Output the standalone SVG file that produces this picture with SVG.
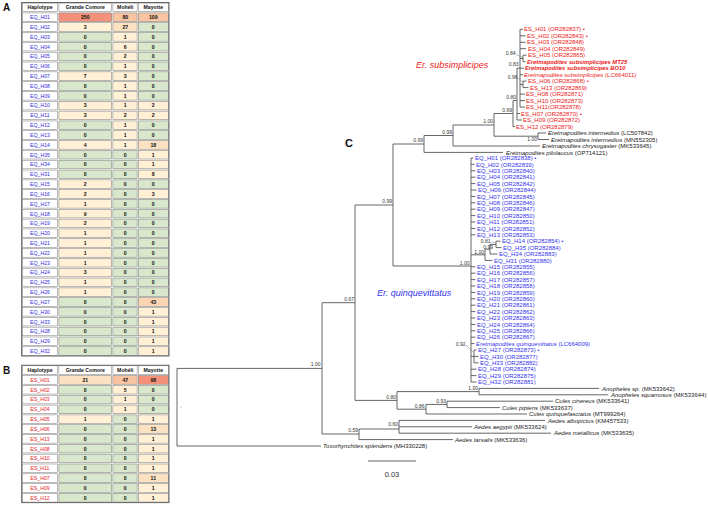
<svg xmlns="http://www.w3.org/2000/svg" width="708" height="505" viewBox="0 0 708 505">
<style>
text{font-family:"Liberation Sans",Arial,sans-serif}
.w{fill:#fff;stroke:#777;stroke-width:.5}
.g{fill:#d9e8cc;stroke:#777;stroke-width:.5}
.c1{fill:#fff0d6;stroke:#777;stroke-width:.5}
.c2{fill:#fde1c3;stroke:#777;stroke-width:.5}
.c3{fill:#fbd4b4;stroke:#777;stroke-width:.5}
.c4{fill:#f8c4a2;stroke:#777;stroke-width:.5}
.c5{fill:#f3917a;stroke:#777;stroke-width:.5}
.hd{font-size:5.2px;font-weight:bold;text-anchor:middle;fill:#111}
.n{font-size:5.2px;font-weight:bold;text-anchor:middle;fill:#111}
.hq{font-size:5.2px;text-anchor:middle;fill:#2f2fd8}
.hs{font-size:5.2px;text-anchor:middle;fill:#e82424}
.frame{fill:none;stroke:#444;stroke-width:.8}
.panel{font-weight:bold;fill:#111}
.br{fill:none;stroke:#555;stroke-width:.9}
.ld{fill:none;stroke:#777;stroke-width:.5}
.sup{font-size:5px;text-anchor:end;fill:#333}
.tq{font-size:6px;fill:#3333ee}
.ts{font-size:6px;fill:#ee2020}
.tk{font-size:6px;fill:#222}
.it{font-style:italic}
.bi{font-style:italic;font-weight:bold;font-size:5.8px}
.clade{font-size:9px;font-style:italic}
</style>

<g id="panel-letters">
<text class="panel" x="3" y="10.5" font-size="10">A</text>
<text class="panel" x="3" y="373.5" font-size="10">B</text>
<text class="panel" x="345" y="147" font-size="11">C</text>
</g>

<g id="tableA">
<g transform="translate(0,2.5)"><rect class="w" x="22.3" y=".6" width="35.4" height="8.6"/><rect class="w" x="58.9" y=".6" width="52.8" height="8.6"/><rect class="w" x="112.9" y=".6" width="24.2" height="8.6"/><rect class="w" x="138.3" y=".6" width="30.1" height="8.6"/><text class="hd" x="40" y="6.8">Haplotype</text><text class="hd" x="85.3" y="6.8">Grande Comore</text><text class="hd" x="125.3" y="6.8">Mohéli</text><text class="hd" x="153.3" y="6.8">Mayotte</text></g>
<g transform="translate(0,12.32)"><rect class="w" x="22.3" y=".6" width="35.4" height="8.6"/><rect class="c5" x="58.9" y=".6" width="52.8" height="8.6"/><rect class="c4" x="112.9" y=".6" width="24.2" height="8.6"/><rect class="c4" x="138.3" y=".6" width="30.1" height="8.6"/><text class="hq" x="40" y="6.8">EQ_H01</text><text class="n" x="85.3" y="6.8">250</text><text class="n" x="125.3" y="6.8">80</text><text class="n" x="153.3" y="6.8">109</text></g>
<g transform="translate(0,22.14)"><rect class="w" x="22.3" y=".6" width="35.4" height="8.6"/><rect class="c1" x="58.9" y=".6" width="52.8" height="8.6"/><rect class="c2" x="112.9" y=".6" width="24.2" height="8.6"/><rect class="g" x="138.3" y=".6" width="30.1" height="8.6"/><text class="hq" x="40" y="6.8">EQ_H02</text><text class="n" x="85.3" y="6.8">3</text><text class="n" x="125.3" y="6.8">27</text><text class="n" x="153.3" y="6.8">0</text></g>
<g transform="translate(0,31.96)"><rect class="w" x="22.3" y=".6" width="35.4" height="8.6"/><rect class="g" x="58.9" y=".6" width="52.8" height="8.6"/><rect class="c1" x="112.9" y=".6" width="24.2" height="8.6"/><rect class="g" x="138.3" y=".6" width="30.1" height="8.6"/><text class="hq" x="40" y="6.8">EQ_H03</text><text class="n" x="85.3" y="6.8">0</text><text class="n" x="125.3" y="6.8">1</text><text class="n" x="153.3" y="6.8">0</text></g>
<g transform="translate(0,41.78)"><rect class="w" x="22.3" y=".6" width="35.4" height="8.6"/><rect class="g" x="58.9" y=".6" width="52.8" height="8.6"/><rect class="c1" x="112.9" y=".6" width="24.2" height="8.6"/><rect class="g" x="138.3" y=".6" width="30.1" height="8.6"/><text class="hq" x="40" y="6.8">EQ_H04</text><text class="n" x="85.3" y="6.8">0</text><text class="n" x="125.3" y="6.8">6</text><text class="n" x="153.3" y="6.8">0</text></g>
<g transform="translate(0,51.6)"><rect class="w" x="22.3" y=".6" width="35.4" height="8.6"/><rect class="g" x="58.9" y=".6" width="52.8" height="8.6"/><rect class="c1" x="112.9" y=".6" width="24.2" height="8.6"/><rect class="g" x="138.3" y=".6" width="30.1" height="8.6"/><text class="hq" x="40" y="6.8">EQ_H05</text><text class="n" x="85.3" y="6.8">0</text><text class="n" x="125.3" y="6.8">2</text><text class="n" x="153.3" y="6.8">0</text></g>
<g transform="translate(0,61.42)"><rect class="w" x="22.3" y=".6" width="35.4" height="8.6"/><rect class="g" x="58.9" y=".6" width="52.8" height="8.6"/><rect class="c1" x="112.9" y=".6" width="24.2" height="8.6"/><rect class="g" x="138.3" y=".6" width="30.1" height="8.6"/><text class="hq" x="40" y="6.8">EQ_H06</text><text class="n" x="85.3" y="6.8">0</text><text class="n" x="125.3" y="6.8">1</text><text class="n" x="153.3" y="6.8">0</text></g>
<g transform="translate(0,71.24)"><rect class="w" x="22.3" y=".6" width="35.4" height="8.6"/><rect class="c1" x="58.9" y=".6" width="52.8" height="8.6"/><rect class="c1" x="112.9" y=".6" width="24.2" height="8.6"/><rect class="g" x="138.3" y=".6" width="30.1" height="8.6"/><text class="hq" x="40" y="6.8">EQ_H07</text><text class="n" x="85.3" y="6.8">7</text><text class="n" x="125.3" y="6.8">3</text><text class="n" x="153.3" y="6.8">0</text></g>
<g transform="translate(0,81.06)"><rect class="w" x="22.3" y=".6" width="35.4" height="8.6"/><rect class="g" x="58.9" y=".6" width="52.8" height="8.6"/><rect class="c1" x="112.9" y=".6" width="24.2" height="8.6"/><rect class="g" x="138.3" y=".6" width="30.1" height="8.6"/><text class="hq" x="40" y="6.8">EQ_H08</text><text class="n" x="85.3" y="6.8">0</text><text class="n" x="125.3" y="6.8">1</text><text class="n" x="153.3" y="6.8">0</text></g>
<g transform="translate(0,90.88)"><rect class="w" x="22.3" y=".6" width="35.4" height="8.6"/><rect class="g" x="58.9" y=".6" width="52.8" height="8.6"/><rect class="c1" x="112.9" y=".6" width="24.2" height="8.6"/><rect class="g" x="138.3" y=".6" width="30.1" height="8.6"/><text class="hq" x="40" y="6.8">EQ_H09</text><text class="n" x="85.3" y="6.8">0</text><text class="n" x="125.3" y="6.8">1</text><text class="n" x="153.3" y="6.8">0</text></g>
<g transform="translate(0,100.7)"><rect class="w" x="22.3" y=".6" width="35.4" height="8.6"/><rect class="c1" x="58.9" y=".6" width="52.8" height="8.6"/><rect class="c1" x="112.9" y=".6" width="24.2" height="8.6"/><rect class="c1" x="138.3" y=".6" width="30.1" height="8.6"/><text class="hq" x="40" y="6.8">EQ_H10</text><text class="n" x="85.3" y="6.8">3</text><text class="n" x="125.3" y="6.8">1</text><text class="n" x="153.3" y="6.8">2</text></g>
<g transform="translate(0,110.52)"><rect class="w" x="22.3" y=".6" width="35.4" height="8.6"/><rect class="c1" x="58.9" y=".6" width="52.8" height="8.6"/><rect class="c1" x="112.9" y=".6" width="24.2" height="8.6"/><rect class="c1" x="138.3" y=".6" width="30.1" height="8.6"/><text class="hq" x="40" y="6.8">EQ_H11</text><text class="n" x="85.3" y="6.8">3</text><text class="n" x="125.3" y="6.8">2</text><text class="n" x="153.3" y="6.8">2</text></g>
<g transform="translate(0,120.34)"><rect class="w" x="22.3" y=".6" width="35.4" height="8.6"/><rect class="g" x="58.9" y=".6" width="52.8" height="8.6"/><rect class="c1" x="112.9" y=".6" width="24.2" height="8.6"/><rect class="g" x="138.3" y=".6" width="30.1" height="8.6"/><text class="hq" x="40" y="6.8">EQ_H12</text><text class="n" x="85.3" y="6.8">0</text><text class="n" x="125.3" y="6.8">1</text><text class="n" x="153.3" y="6.8">0</text></g>
<g transform="translate(0,130.16)"><rect class="w" x="22.3" y=".6" width="35.4" height="8.6"/><rect class="g" x="58.9" y=".6" width="52.8" height="8.6"/><rect class="c1" x="112.9" y=".6" width="24.2" height="8.6"/><rect class="g" x="138.3" y=".6" width="30.1" height="8.6"/><text class="hq" x="40" y="6.8">EQ_H13</text><text class="n" x="85.3" y="6.8">0</text><text class="n" x="125.3" y="6.8">1</text><text class="n" x="153.3" y="6.8">0</text></g>
<g transform="translate(0,139.98)"><rect class="w" x="22.3" y=".6" width="35.4" height="8.6"/><rect class="c1" x="58.9" y=".6" width="52.8" height="8.6"/><rect class="c1" x="112.9" y=".6" width="24.2" height="8.6"/><rect class="c2" x="138.3" y=".6" width="30.1" height="8.6"/><text class="hq" x="40" y="6.8">EQ_H14</text><text class="n" x="85.3" y="6.8">4</text><text class="n" x="125.3" y="6.8">1</text><text class="n" x="153.3" y="6.8">18</text></g>
<g transform="translate(0,149.8)"><rect class="w" x="22.3" y=".6" width="35.4" height="8.6"/><rect class="g" x="58.9" y=".6" width="52.8" height="8.6"/><rect class="g" x="112.9" y=".6" width="24.2" height="8.6"/><rect class="c1" x="138.3" y=".6" width="30.1" height="8.6"/><text class="hq" x="40" y="6.8">EQ_H35</text><text class="n" x="85.3" y="6.8">0</text><text class="n" x="125.3" y="6.8">0</text><text class="n" x="153.3" y="6.8">1</text></g>
<g transform="translate(0,159.62)"><rect class="w" x="22.3" y=".6" width="35.4" height="8.6"/><rect class="g" x="58.9" y=".6" width="52.8" height="8.6"/><rect class="g" x="112.9" y=".6" width="24.2" height="8.6"/><rect class="c1" x="138.3" y=".6" width="30.1" height="8.6"/><text class="hq" x="40" y="6.8">EQ_H34</text><text class="n" x="85.3" y="6.8">0</text><text class="n" x="125.3" y="6.8">0</text><text class="n" x="153.3" y="6.8">1</text></g>
<g transform="translate(0,169.44)"><rect class="w" x="22.3" y=".6" width="35.4" height="8.6"/><rect class="g" x="58.9" y=".6" width="52.8" height="8.6"/><rect class="g" x="112.9" y=".6" width="24.2" height="8.6"/><rect class="c1" x="138.3" y=".6" width="30.1" height="8.6"/><text class="hq" x="40" y="6.8">EQ_H31</text><text class="n" x="85.3" y="6.8">0</text><text class="n" x="125.3" y="6.8">0</text><text class="n" x="153.3" y="6.8">8</text></g>
<g transform="translate(0,179.26)"><rect class="w" x="22.3" y=".6" width="35.4" height="8.6"/><rect class="c1" x="58.9" y=".6" width="52.8" height="8.6"/><rect class="g" x="112.9" y=".6" width="24.2" height="8.6"/><rect class="g" x="138.3" y=".6" width="30.1" height="8.6"/><text class="hq" x="40" y="6.8">EQ_H15</text><text class="n" x="85.3" y="6.8">2</text><text class="n" x="125.3" y="6.8">0</text><text class="n" x="153.3" y="6.8">0</text></g>
<g transform="translate(0,189.08)"><rect class="w" x="22.3" y=".6" width="35.4" height="8.6"/><rect class="c1" x="58.9" y=".6" width="52.8" height="8.6"/><rect class="g" x="112.9" y=".6" width="24.2" height="8.6"/><rect class="c1" x="138.3" y=".6" width="30.1" height="8.6"/><text class="hq" x="40" y="6.8">EQ_H16</text><text class="n" x="85.3" y="6.8">2</text><text class="n" x="125.3" y="6.8">0</text><text class="n" x="153.3" y="6.8">3</text></g>
<g transform="translate(0,198.9)"><rect class="w" x="22.3" y=".6" width="35.4" height="8.6"/><rect class="c1" x="58.9" y=".6" width="52.8" height="8.6"/><rect class="g" x="112.9" y=".6" width="24.2" height="8.6"/><rect class="g" x="138.3" y=".6" width="30.1" height="8.6"/><text class="hq" x="40" y="6.8">EQ_H17</text><text class="n" x="85.3" y="6.8">1</text><text class="n" x="125.3" y="6.8">0</text><text class="n" x="153.3" y="6.8">0</text></g>
<g transform="translate(0,208.72)"><rect class="w" x="22.3" y=".6" width="35.4" height="8.6"/><rect class="c1" x="58.9" y=".6" width="52.8" height="8.6"/><rect class="g" x="112.9" y=".6" width="24.2" height="8.6"/><rect class="g" x="138.3" y=".6" width="30.1" height="8.6"/><text class="hq" x="40" y="6.8">EQ_H18</text><text class="n" x="85.3" y="6.8">9</text><text class="n" x="125.3" y="6.8">0</text><text class="n" x="153.3" y="6.8">0</text></g>
<g transform="translate(0,218.54)"><rect class="w" x="22.3" y=".6" width="35.4" height="8.6"/><rect class="c1" x="58.9" y=".6" width="52.8" height="8.6"/><rect class="g" x="112.9" y=".6" width="24.2" height="8.6"/><rect class="g" x="138.3" y=".6" width="30.1" height="8.6"/><text class="hq" x="40" y="6.8">EQ_H19</text><text class="n" x="85.3" y="6.8">2</text><text class="n" x="125.3" y="6.8">0</text><text class="n" x="153.3" y="6.8">0</text></g>
<g transform="translate(0,228.36)"><rect class="w" x="22.3" y=".6" width="35.4" height="8.6"/><rect class="c1" x="58.9" y=".6" width="52.8" height="8.6"/><rect class="g" x="112.9" y=".6" width="24.2" height="8.6"/><rect class="g" x="138.3" y=".6" width="30.1" height="8.6"/><text class="hq" x="40" y="6.8">EQ_H20</text><text class="n" x="85.3" y="6.8">1</text><text class="n" x="125.3" y="6.8">0</text><text class="n" x="153.3" y="6.8">0</text></g>
<g transform="translate(0,238.18)"><rect class="w" x="22.3" y=".6" width="35.4" height="8.6"/><rect class="c1" x="58.9" y=".6" width="52.8" height="8.6"/><rect class="g" x="112.9" y=".6" width="24.2" height="8.6"/><rect class="g" x="138.3" y=".6" width="30.1" height="8.6"/><text class="hq" x="40" y="6.8">EQ_H21</text><text class="n" x="85.3" y="6.8">1</text><text class="n" x="125.3" y="6.8">0</text><text class="n" x="153.3" y="6.8">0</text></g>
<g transform="translate(0,248)"><rect class="w" x="22.3" y=".6" width="35.4" height="8.6"/><rect class="c1" x="58.9" y=".6" width="52.8" height="8.6"/><rect class="g" x="112.9" y=".6" width="24.2" height="8.6"/><rect class="g" x="138.3" y=".6" width="30.1" height="8.6"/><text class="hq" x="40" y="6.8">EQ_H22</text><text class="n" x="85.3" y="6.8">1</text><text class="n" x="125.3" y="6.8">0</text><text class="n" x="153.3" y="6.8">0</text></g>
<g transform="translate(0,257.82)"><rect class="w" x="22.3" y=".6" width="35.4" height="8.6"/><rect class="c1" x="58.9" y=".6" width="52.8" height="8.6"/><rect class="g" x="112.9" y=".6" width="24.2" height="8.6"/><rect class="g" x="138.3" y=".6" width="30.1" height="8.6"/><text class="hq" x="40" y="6.8">EQ_H23</text><text class="n" x="85.3" y="6.8">1</text><text class="n" x="125.3" y="6.8">0</text><text class="n" x="153.3" y="6.8">0</text></g>
<g transform="translate(0,267.64)"><rect class="w" x="22.3" y=".6" width="35.4" height="8.6"/><rect class="c1" x="58.9" y=".6" width="52.8" height="8.6"/><rect class="g" x="112.9" y=".6" width="24.2" height="8.6"/><rect class="g" x="138.3" y=".6" width="30.1" height="8.6"/><text class="hq" x="40" y="6.8">EQ_H24</text><text class="n" x="85.3" y="6.8">3</text><text class="n" x="125.3" y="6.8">0</text><text class="n" x="153.3" y="6.8">0</text></g>
<g transform="translate(0,277.46)"><rect class="w" x="22.3" y=".6" width="35.4" height="8.6"/><rect class="c1" x="58.9" y=".6" width="52.8" height="8.6"/><rect class="g" x="112.9" y=".6" width="24.2" height="8.6"/><rect class="g" x="138.3" y=".6" width="30.1" height="8.6"/><text class="hq" x="40" y="6.8">EQ_H25</text><text class="n" x="85.3" y="6.8">1</text><text class="n" x="125.3" y="6.8">0</text><text class="n" x="153.3" y="6.8">0</text></g>
<g transform="translate(0,287.28)"><rect class="w" x="22.3" y=".6" width="35.4" height="8.6"/><rect class="c1" x="58.9" y=".6" width="52.8" height="8.6"/><rect class="g" x="112.9" y=".6" width="24.2" height="8.6"/><rect class="g" x="138.3" y=".6" width="30.1" height="8.6"/><text class="hq" x="40" y="6.8">EQ_H26</text><text class="n" x="85.3" y="6.8">1</text><text class="n" x="125.3" y="6.8">0</text><text class="n" x="153.3" y="6.8">0</text></g>
<g transform="translate(0,297.1)"><rect class="w" x="22.3" y=".6" width="35.4" height="8.6"/><rect class="g" x="58.9" y=".6" width="52.8" height="8.6"/><rect class="g" x="112.9" y=".6" width="24.2" height="8.6"/><rect class="c3" x="138.3" y=".6" width="30.1" height="8.6"/><text class="hq" x="40" y="6.8">EQ_H27</text><text class="n" x="85.3" y="6.8">0</text><text class="n" x="125.3" y="6.8">0</text><text class="n" x="153.3" y="6.8">43</text></g>
<g transform="translate(0,306.92)"><rect class="w" x="22.3" y=".6" width="35.4" height="8.6"/><rect class="g" x="58.9" y=".6" width="52.8" height="8.6"/><rect class="g" x="112.9" y=".6" width="24.2" height="8.6"/><rect class="c1" x="138.3" y=".6" width="30.1" height="8.6"/><text class="hq" x="40" y="6.8">EQ_H30</text><text class="n" x="85.3" y="6.8">0</text><text class="n" x="125.3" y="6.8">0</text><text class="n" x="153.3" y="6.8">1</text></g>
<g transform="translate(0,316.74)"><rect class="w" x="22.3" y=".6" width="35.4" height="8.6"/><rect class="g" x="58.9" y=".6" width="52.8" height="8.6"/><rect class="g" x="112.9" y=".6" width="24.2" height="8.6"/><rect class="c1" x="138.3" y=".6" width="30.1" height="8.6"/><text class="hq" x="40" y="6.8">EQ_H33</text><text class="n" x="85.3" y="6.8">0</text><text class="n" x="125.3" y="6.8">0</text><text class="n" x="153.3" y="6.8">1</text></g>
<g transform="translate(0,326.56)"><rect class="w" x="22.3" y=".6" width="35.4" height="8.6"/><rect class="g" x="58.9" y=".6" width="52.8" height="8.6"/><rect class="g" x="112.9" y=".6" width="24.2" height="8.6"/><rect class="c1" x="138.3" y=".6" width="30.1" height="8.6"/><text class="hq" x="40" y="6.8">EQ_H28</text><text class="n" x="85.3" y="6.8">0</text><text class="n" x="125.3" y="6.8">0</text><text class="n" x="153.3" y="6.8">1</text></g>
<g transform="translate(0,336.38)"><rect class="w" x="22.3" y=".6" width="35.4" height="8.6"/><rect class="g" x="58.9" y=".6" width="52.8" height="8.6"/><rect class="g" x="112.9" y=".6" width="24.2" height="8.6"/><rect class="c1" x="138.3" y=".6" width="30.1" height="8.6"/><text class="hq" x="40" y="6.8">EQ_H29</text><text class="n" x="85.3" y="6.8">0</text><text class="n" x="125.3" y="6.8">0</text><text class="n" x="153.3" y="6.8">1</text></g>
<g transform="translate(0,346.2)"><rect class="w" x="22.3" y=".6" width="35.4" height="8.6"/><rect class="g" x="58.9" y=".6" width="52.8" height="8.6"/><rect class="g" x="112.9" y=".6" width="24.2" height="8.6"/><rect class="c1" x="138.3" y=".6" width="30.1" height="8.6"/><text class="hq" x="40" y="6.8">EQ_H32</text><text class="n" x="85.3" y="6.8">0</text><text class="n" x="125.3" y="6.8">0</text><text class="n" x="153.3" y="6.8">1</text></g>
<rect class="frame" x="21.7" y="2.5" width="147.3" height="353.5"/>
</g>

<g id="tableB">
<g transform="translate(0,365.2)"><rect class="w" x="22.3" y=".6" width="35.4" height="8.6"/><rect class="w" x="58.9" y=".6" width="52.8" height="8.6"/><rect class="w" x="112.9" y=".6" width="24.2" height="8.6"/><rect class="w" x="138.3" y=".6" width="30.1" height="8.6"/><text class="hd" x="40" y="6.8">Haplotype</text><text class="hd" x="85.3" y="6.8">Grande Comore</text><text class="hd" x="125.3" y="6.8">Mohéli</text><text class="hd" x="153.3" y="6.8">Mayotte</text></g>
<g transform="translate(0,375.02)"><rect class="w" x="22.3" y=".6" width="35.4" height="8.6"/><rect class="c2" x="58.9" y=".6" width="52.8" height="8.6"/><rect class="c4" x="112.9" y=".6" width="24.2" height="8.6"/><rect class="c5" x="138.3" y=".6" width="30.1" height="8.6"/><text class="hs" x="40" y="6.8">ES_H01</text><text class="n" x="85.3" y="6.8">21</text><text class="n" x="125.3" y="6.8">47</text><text class="n" x="153.3" y="6.8">98</text></g>
<g transform="translate(0,384.84)"><rect class="w" x="22.3" y=".6" width="35.4" height="8.6"/><rect class="g" x="58.9" y=".6" width="52.8" height="8.6"/><rect class="c1" x="112.9" y=".6" width="24.2" height="8.6"/><rect class="g" x="138.3" y=".6" width="30.1" height="8.6"/><text class="hs" x="40" y="6.8">ES_H02</text><text class="n" x="85.3" y="6.8">0</text><text class="n" x="125.3" y="6.8">5</text><text class="n" x="153.3" y="6.8">0</text></g>
<g transform="translate(0,394.66)"><rect class="w" x="22.3" y=".6" width="35.4" height="8.6"/><rect class="g" x="58.9" y=".6" width="52.8" height="8.6"/><rect class="c1" x="112.9" y=".6" width="24.2" height="8.6"/><rect class="g" x="138.3" y=".6" width="30.1" height="8.6"/><text class="hs" x="40" y="6.8">ES_H03</text><text class="n" x="85.3" y="6.8">0</text><text class="n" x="125.3" y="6.8">1</text><text class="n" x="153.3" y="6.8">0</text></g>
<g transform="translate(0,404.48)"><rect class="w" x="22.3" y=".6" width="35.4" height="8.6"/><rect class="g" x="58.9" y=".6" width="52.8" height="8.6"/><rect class="c1" x="112.9" y=".6" width="24.2" height="8.6"/><rect class="g" x="138.3" y=".6" width="30.1" height="8.6"/><text class="hs" x="40" y="6.8">ES_H04</text><text class="n" x="85.3" y="6.8">0</text><text class="n" x="125.3" y="6.8">1</text><text class="n" x="153.3" y="6.8">0</text></g>
<g transform="translate(0,414.3)"><rect class="w" x="22.3" y=".6" width="35.4" height="8.6"/><rect class="c1" x="58.9" y=".6" width="52.8" height="8.6"/><rect class="g" x="112.9" y=".6" width="24.2" height="8.6"/><rect class="c1" x="138.3" y=".6" width="30.1" height="8.6"/><text class="hs" x="40" y="6.8">ES_H05</text><text class="n" x="85.3" y="6.8">1</text><text class="n" x="125.3" y="6.8">0</text><text class="n" x="153.3" y="6.8">1</text></g>
<g transform="translate(0,424.12)"><rect class="w" x="22.3" y=".6" width="35.4" height="8.6"/><rect class="g" x="58.9" y=".6" width="52.8" height="8.6"/><rect class="g" x="112.9" y=".6" width="24.2" height="8.6"/><rect class="c2" x="138.3" y=".6" width="30.1" height="8.6"/><text class="hs" x="40" y="6.8">ES_H06</text><text class="n" x="85.3" y="6.8">0</text><text class="n" x="125.3" y="6.8">0</text><text class="n" x="153.3" y="6.8">13</text></g>
<g transform="translate(0,433.94)"><rect class="w" x="22.3" y=".6" width="35.4" height="8.6"/><rect class="g" x="58.9" y=".6" width="52.8" height="8.6"/><rect class="g" x="112.9" y=".6" width="24.2" height="8.6"/><rect class="c1" x="138.3" y=".6" width="30.1" height="8.6"/><text class="hs" x="40" y="6.8">ES_H13</text><text class="n" x="85.3" y="6.8">0</text><text class="n" x="125.3" y="6.8">0</text><text class="n" x="153.3" y="6.8">1</text></g>
<g transform="translate(0,443.76)"><rect class="w" x="22.3" y=".6" width="35.4" height="8.6"/><rect class="g" x="58.9" y=".6" width="52.8" height="8.6"/><rect class="g" x="112.9" y=".6" width="24.2" height="8.6"/><rect class="c1" x="138.3" y=".6" width="30.1" height="8.6"/><text class="hs" x="40" y="6.8">ES_H08</text><text class="n" x="85.3" y="6.8">0</text><text class="n" x="125.3" y="6.8">0</text><text class="n" x="153.3" y="6.8">1</text></g>
<g transform="translate(0,453.58)"><rect class="w" x="22.3" y=".6" width="35.4" height="8.6"/><rect class="g" x="58.9" y=".6" width="52.8" height="8.6"/><rect class="g" x="112.9" y=".6" width="24.2" height="8.6"/><rect class="c1" x="138.3" y=".6" width="30.1" height="8.6"/><text class="hs" x="40" y="6.8">ES_H10</text><text class="n" x="85.3" y="6.8">0</text><text class="n" x="125.3" y="6.8">0</text><text class="n" x="153.3" y="6.8">1</text></g>
<g transform="translate(0,463.4)"><rect class="w" x="22.3" y=".6" width="35.4" height="8.6"/><rect class="g" x="58.9" y=".6" width="52.8" height="8.6"/><rect class="g" x="112.9" y=".6" width="24.2" height="8.6"/><rect class="c1" x="138.3" y=".6" width="30.1" height="8.6"/><text class="hs" x="40" y="6.8">ES_H11</text><text class="n" x="85.3" y="6.8">0</text><text class="n" x="125.3" y="6.8">0</text><text class="n" x="153.3" y="6.8">1</text></g>
<g transform="translate(0,473.22)"><rect class="w" x="22.3" y=".6" width="35.4" height="8.6"/><rect class="g" x="58.9" y=".6" width="52.8" height="8.6"/><rect class="g" x="112.9" y=".6" width="24.2" height="8.6"/><rect class="c2" x="138.3" y=".6" width="30.1" height="8.6"/><text class="hs" x="40" y="6.8">ES_H07</text><text class="n" x="85.3" y="6.8">0</text><text class="n" x="125.3" y="6.8">0</text><text class="n" x="153.3" y="6.8">11</text></g>
<g transform="translate(0,483.04)"><rect class="w" x="22.3" y=".6" width="35.4" height="8.6"/><rect class="g" x="58.9" y=".6" width="52.8" height="8.6"/><rect class="g" x="112.9" y=".6" width="24.2" height="8.6"/><rect class="c1" x="138.3" y=".6" width="30.1" height="8.6"/><text class="hs" x="40" y="6.8">ES_H09</text><text class="n" x="85.3" y="6.8">0</text><text class="n" x="125.3" y="6.8">0</text><text class="n" x="153.3" y="6.8">1</text></g>
<g transform="translate(0,492.86)"><rect class="w" x="22.3" y=".6" width="35.4" height="8.6"/><rect class="g" x="58.9" y=".6" width="52.8" height="8.6"/><rect class="g" x="112.9" y=".6" width="24.2" height="8.6"/><rect class="c1" x="138.3" y=".6" width="30.1" height="8.6"/><text class="hs" x="40" y="6.8">ES_H12</text><text class="n" x="85.3" y="6.8">0</text><text class="n" x="125.3" y="6.8">0</text><text class="n" x="153.3" y="6.8">1</text></g>
<rect class="frame" x="21.7" y="365.2" width="147.3" height="137.5"/>
</g>

<g id="connectors">
<path class="br" d="M177,368.4V446M177,368.4H322M177,446H321
M322,302.7V434M322,302.7H355M322,434H359
M355,205V400.4M355,205H393M355,400.4H397
M393,144V266M393,144H424M393,266H471
M424,135.5V152.4M424,135.5H453M424,152.4H503
M453,125V146M453,125H494M453,146H540
M494,113.5V136.2M494,113.5H513M494,136.2H538
M538,133V139.5M538,133H546M538,139.5H549
M513,100.6V126.5M513,100.6H517M513,126.5H515
M517,68.2V120M517,68.2H520M517,113.5H520M517,120H522
M520,29.3V107.1M520,29.3H523M520,35.8H525.5M520,42.3H525.5M520,48.7H526M520,58.5H523M520,68.2H524M520,74.7H523M520,84.4H523M520,94.1H525M520,100.6H525M520,107.1H525
M523,55.2V61.7M523,55.2H526.5M523,61.7H525.5
M523,81.1V87.6M523,81.1H526.5M523,87.6H528.5
M471,158V382.0
M471,158H473.5M471,164.4H474.5M471,170.8H475.5M471,177.2H475.5M471,183.6H475.5M471,190H476.5M471,196.4H475.5M471,202.8H475.5M471,209.2H475.5M471,215.6H475.5M471,222H475.5M471,228.4H475.5M471,234.8H475.5
M471,254.8H485M485,249.2V260.4M485,260.4H492.5M485,249.2H490M490,244.4V254M490,254H497.5M490,244.4H496M496,241.2V247.6M496,241.2H500.5M496,247.6H501.5
M471,266.8H475.5M471,273.2H475.5M471,279.6H475.5M471,286H475.5M471,292.4H475.5M471,298.8H475.5M471,305.2H475.5M471,311.6H475.5M471,318H475.5M471,324.4H475.5M471,330.8H475.5M471,337.2H475.5M471,343.6H474.5
M471,356.4H474M474,350V362.8M474,350H476.5M474,356.4H478.5M474,362.8H478.5
M471,369.2H476.5M471,375.6H476.5M471,382H476.5
M397,391.6V409.2M397,391.6H479M397,409.2H426
M479,388.4V394.8M479,388.4H599M479,394.8H608
M426,404.4V414M426,404.4H447M426,414H527
M447,401.2V407.6M447,401.2H553M447,407.6H500
M359,429V439.6M359,429H399M359,439.6H453
M399,420.4V433.2M399,420.4H545M399,426.8H472M399,433.2H551"/>
<path class="ld" d="M516,54.5L523,57.5M518,78L523,82M491,241.8L496,243.2M466,345L473,352"/>
<circle cx="181" cy="407" r=".6" fill="#999"/>
</g>

<g id="support-values">
<text class="sup" x="320.5" y="366">1.00</text>
<text class="sup" x="354" y="301">0.67</text>
<text class="sup" x="392" y="203">0.99</text>
<text class="sup" x="423" y="141.8">0.99</text>
<text class="sup" x="452" y="133.5">0.99</text>
<text class="sup" x="493" y="122.5">1.00</text>
<text class="sup" x="512" y="111.8">0.69</text>
<text class="sup" x="516" y="98.8">0.80</text>
<text class="sup" x="518.5" y="66.3">0.83</text>
<text class="sup" x="515.5" y="54.8">0.84</text>
<text class="sup" x="517.5" y="78.8">0.96</text>
<text class="sup" x="537" y="140.8">1.00</text>
<text class="sup" x="469.5" y="264.8">1.00</text>
<text class="sup" x="484" y="253.5">1.00</text>
<text class="sup" x="493" y="248.5">0.99</text>
<text class="sup" x="490.5" y="242.8">0.81</text>
<text class="sup" x="465.5" y="345.8">0.92</text>
<text class="sup" x="478" y="389.8">1.00</text>
<text class="sup" x="396" y="398.8">0.80</text>
<text class="sup" x="446" y="402.8">0.93</text>
<text class="sup" x="424.5" y="407.8">0.86</text>
<text class="sup" x="358" y="431.8">0.59</text>
<text class="sup" x="398" y="425.5">0.60</text>
</g>

<g id="clade-subsimplicipes">
<text class="clade" x="416" y="68" fill="#ee2020">Er. subsimplicipes</text>
<text class="ts" x="524" y="31.4">ES_H01 (OR282837) •</text>
<text class="ts" x="527" y="37.9">ES_H02 (OR282843) •</text>
<text class="ts" x="527" y="44.4">ES_H03 (OR282848)</text>
<text class="ts" x="528" y="50.8">ES_H04 (OR282849)</text>
<text class="ts" x="528" y="57.3">ES_H05 (OR282865)</text>
<text class="ts bi" x="527" y="63.8">Eretmapodites subsimplicipes MT25</text>
<text class="ts bi" x="525" y="70.3">Eretmapodites subsimplicipes BO10</text>
<text class="ts" x="524" y="76.8" font-size="5.2"><tspan class="it">Eretmapodites subsimplicipes</tspan> (LC664011)</text>
<text class="ts" x="528" y="83.2">ES_H06 (OR282868) •</text>
<text class="ts" x="530" y="89.7">ES_H13 (OR282869)</text>
<text class="ts" x="526" y="96.2">ES_H08 (OR282871)</text>
<text class="ts" x="526" y="102.7">ES_H10 (OR282873)</text>
<text class="ts" x="526" y="109.2">ES_H11(OR282878)</text>
<text class="ts" x="521" y="115.6">ES_H07 (OR282870) •</text>
<text class="ts" x="523" y="122.1">ES_H09 (OR282872)</text>
<text class="ts" x="516" y="128.6">ES_H12 (OR282879)</text>
</g>

<g id="outgroup-eretmapodites">
<text class="tk" x="548" y="135.1"><tspan class="it">Eretmapodites intermedius</tspan> (LC507842)</text>
<text class="tk" x="551" y="141.6"><tspan class="it">Eretmapodites intermedius</tspan> (MN552305)</text>
<text class="tk" x="542" y="148.1"><tspan class="it">Eretmapodites chrysogaster</tspan> (MK533645)</text>
<text class="tk" x="506" y="154.5"><tspan class="it">Eretmapodites pilolaucus</tspan> (OP714121)</text>
</g>

<g id="clade-quinquevittatus">
<text class="clade" x="377" y="295.5" fill="#3333ee">Er. quinquevittatus</text>
<text class="tq" x="475" y="160.1">EQ_H01 (OR282838) •</text>
<text class="tq" x="476" y="166.5">EQ_H02 (OR282839)</text>
<text class="tq" x="477" y="172.9">EQ_H03 (OR282840)</text>
<text class="tq" x="477" y="179.3">EQ_H04 (OR282841)</text>
<text class="tq" x="477" y="185.7">EQ_H05 (OR282842)</text>
<text class="tq" x="478" y="192.1">EQ_H06 (OR282844)</text>
<text class="tq" x="477" y="198.5">EQ_H07 (OR282845)</text>
<text class="tq" x="477" y="204.9">EQ_H08 (OR282846)</text>
<text class="tq" x="477" y="211.3">EQ_H09 (OR282847)</text>
<text class="tq" x="477" y="217.7">EQ_H10 (OR282850)</text>
<text class="tq" x="477" y="224.1">EQ_H11 (OR282851)</text>
<text class="tq" x="477" y="230.5">EQ_H12 (OR282852)</text>
<text class="tq" x="477" y="236.9">EQ_H13 (OR282853)</text>
<text class="tq" x="502" y="243.3">EQ_H14 (OR282854) •</text>
<text class="tq" x="503" y="249.7">EQ_H35 (OR282884)</text>
<text class="tq" x="499" y="256.1">EQ_H34 (OR282883)</text>
<text class="tq" x="494" y="262.5">EQ_H31 (OR282880)</text>
<text class="tq" x="477" y="268.9">EQ_H15 (OR282855)</text>
<text class="tq" x="477" y="275.3">EQ_H16 (OR282856)</text>
<text class="tq" x="477" y="281.7">EQ_H17 (OR282857)</text>
<text class="tq" x="477" y="288.1">EQ_H18 (OR282858)</text>
<text class="tq" x="477" y="294.5">EQ_H19 (OR282859)</text>
<text class="tq" x="477" y="300.9">EQ_H20 (OR282860)</text>
<text class="tq" x="477" y="307.3">EQ_H21 (OR282861)</text>
<text class="tq" x="477" y="313.7">EQ_H22 (OR282862)</text>
<text class="tq" x="477" y="320.1">EQ_H23 (OR282863)</text>
<text class="tq" x="477" y="326.5">EQ_H24 (OR282864)</text>
<text class="tq" x="477" y="332.9">EQ_H25 (OR282866)</text>
<text class="tq" x="477" y="339.3">EQ_H26 (OR282867)</text>
<text class="tq" x="476" y="345.7"><tspan class="it">Eretmapodites quinquevittatus</tspan> (LC664009)</text>
<text class="tq" x="478" y="352.1">EQ_H27 (OR282873) •</text>
<text class="tq" x="480" y="358.5">EQ_H30 (OR282877)</text>
<text class="tq" x="480" y="364.9">EQ_H33 (OR282882)</text>
<text class="tq" x="478" y="371.3">EQ_H28 (OR282874)</text>
<text class="tq" x="478" y="377.7">EQ_H29 (OR282875)</text>
<text class="tq" x="478" y="384.1">EQ_H32 (OR282881)</text>
</g>

<g id="outgroups">
<text class="tk" x="602" y="390.5"><tspan class="it">Anopheles sp.</tspan> (MK533642)</text>
<text class="tk" x="611" y="396.9"><tspan class="it">Anopheles squamosus</tspan> (MK533644)</text>
<text class="tk" x="555" y="403.3"><tspan class="it">Culex cinereus</tspan> (MK533641)</text>
<text class="tk" x="502" y="409.7"><tspan class="it">Culex pipiens</tspan> (MK533637)</text>
<text class="tk" x="529" y="416.1"><tspan class="it">Culex quinquefasciatus</tspan> (MT999264)</text>
<text class="tk" x="548" y="422.5"><tspan class="it">Aedes albopictus</tspan> (KM457533)</text>
<text class="tk" x="474" y="428.9"><tspan class="it">Aedes aegypti</tspan> (MK533624)</text>
<text class="tk" x="554" y="435.3"><tspan class="it">Aedes metallicus</tspan> (MK533635)</text>
<text class="tk" x="455" y="441.7"><tspan class="it">Aedes tarsalis</tspan> (MK533636)</text>
<text class="tk" x="323" y="448.1"><tspan class="it">Toxorhynchites splendens</tspan> (MH330228)</text>
</g>

<g id="scale-bar">
<line x1="368" y1="461" x2="416" y2="461" stroke="#666" stroke-width="1.2"/>
<text x="392" y="477" font-size="7.5" text-anchor="middle" fill="#333">0.03</text>
</g>
</svg>
